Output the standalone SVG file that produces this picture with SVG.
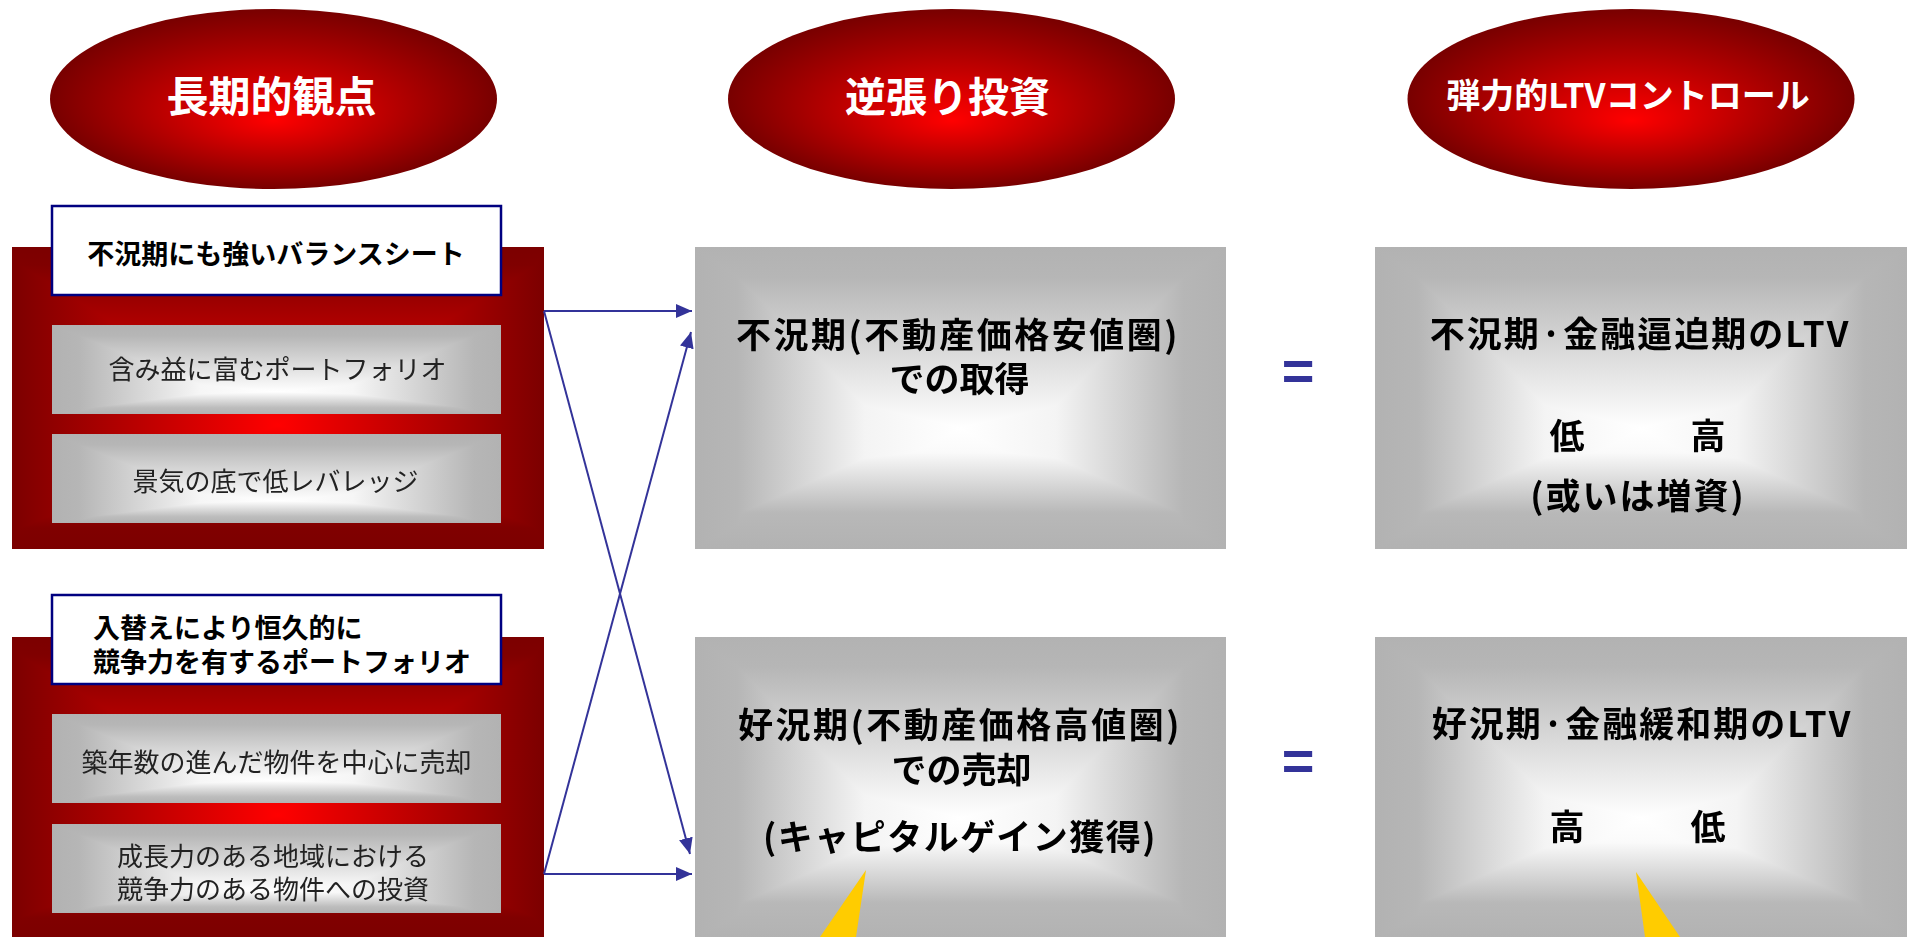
<svg xmlns="http://www.w3.org/2000/svg" width="1909" height="937" viewBox="0 0 1909 937">
<defs>
  <radialGradient id="ellG" cx="0.5" cy="0.5" r="0.5" fx="0.5" fy="0.62">
    <stop offset="0" stop-color="#FF0000"/>
    <stop offset="1" stop-color="#780000"/>
  </radialGradient>
  <linearGradient id="redH" x1="0" y1="0" x2="1" y2="0">
    <stop offset="0" stop-color="#7C0000"/>
    <stop offset="0.5" stop-color="#FF0000"/>
    <stop offset="1" stop-color="#7C0000"/>
  </linearGradient>
  <linearGradient id="redV" x1="0" y1="0" x2="0" y2="1">
    <stop offset="0" stop-color="#7C0000"/>
    <stop offset="0.06" stop-color="#800000"/>
    <stop offset="0.59" stop-color="#FF0000"/>
    <stop offset="0.93" stop-color="#800000"/>
    <stop offset="1" stop-color="#7C0000"/>
  </linearGradient>
  <linearGradient id="barH" x1="0" y1="0" x2="1" y2="0">
    <stop offset="0" stop-color="#B2B2B2"/>
    <stop offset="0.06" stop-color="#B6B6B6"/>
    <stop offset="0.33" stop-color="#F6F6F6"/>
    <stop offset="0.5" stop-color="#FFFFFF"/>
    <stop offset="0.67" stop-color="#F6F6F6"/>
    <stop offset="0.94" stop-color="#B6B6B6"/>
    <stop offset="1" stop-color="#B2B2B2"/>
  </linearGradient>
  <linearGradient id="barV" x1="0" y1="0" x2="0" y2="1">
    <stop offset="0" stop-color="#B2B2B2"/>
    <stop offset="0.12" stop-color="#B6B6B6"/>
    <stop offset="0.75" stop-color="#FFFFFF"/>
    <stop offset="0.93" stop-color="#BCBCBC"/>
    <stop offset="1" stop-color="#B2B2B2"/>
  </linearGradient>
  <linearGradient id="boxH" x1="0" y1="0" x2="1" y2="0">
    <stop offset="0" stop-color="#B2B2B2"/>
    <stop offset="0.08" stop-color="#B6B6B6"/>
    <stop offset="0.32" stop-color="#F4F4F4"/>
    <stop offset="0.5" stop-color="#FFFFFF"/>
    <stop offset="0.68" stop-color="#F4F4F4"/>
    <stop offset="0.92" stop-color="#B6B6B6"/>
    <stop offset="1" stop-color="#B2B2B2"/>
  </linearGradient>
  <linearGradient id="boxV" x1="0" y1="0" x2="0" y2="1">
    <stop offset="0" stop-color="#B2B2B2"/>
    <stop offset="0.1" stop-color="#B6B6B6"/>
    <stop offset="0.6" stop-color="#FFFFFF"/>
    <stop offset="0.68" stop-color="#FAFAFA"/>
    <stop offset="0.88" stop-color="#B8B8B8"/>
    <stop offset="1" stop-color="#B2B2B2"/>
  </linearGradient>
  <marker id="arr" markerUnits="userSpaceOnUse" markerWidth="17" markerHeight="14" refX="16" refY="7" orient="auto">
    <path d="M0,0 L16,7 L0,14 z" fill="#333399"/>
  </marker>
</defs>
<style>
  .t{font-family:'Noto Sans CJK JP','Noto Sans CJK SC',sans-serif;dominant-baseline:central}
  .title{font-weight:700;fill:#FFFFFF}
  .hdr{font-size:27px;font-weight:700;fill:#000000}
  .bar{font-size:26px;font-weight:400;fill:#222222}
  .big{font-size:35px;font-weight:700;fill:#000000}
  .lbl{fill:#FFFFFF;stroke:#000080;stroke-width:2.5}
  .ell{fill:url(#ellG)}
  .blend{mix-blend-mode:darken}
  .iso{isolation:isolate}
  .conn{stroke:#333399;stroke-width:2;fill:none;marker-end:url(#arr)}
  .eq{font-family:'Liberation Sans',Arial,sans-serif;font-weight:700;font-size:56px;fill:#333399}
  .tail{fill:#FFCC00}
</style>

<!-- Title ellipses -->
<g id="title-long-term">
  <ellipse class="ell" cx="273.5" cy="99" rx="223.5" ry="90"/>
  <text class="t title" x="271.5" y="93.5" font-size="42" text-anchor="middle">長期的観点</text>
</g>
<g id="title-contrarian">
  <ellipse class="ell" cx="951.5" cy="99" rx="223.5" ry="90"/>
  <text class="t title" x="947.5" y="93.5" font-size="41" text-anchor="middle">逆張り投資</text>
</g>
<g id="title-ltv">
  <ellipse class="ell" cx="1631" cy="99" rx="223.5" ry="90"/>
  <text class="t title" x="1628" y="93" font-size="34" text-anchor="middle">弾力的LTVコントロール</text>
</g>

<!-- Left panel 1 -->
<g id="panel-balance-sheet">
  <g class="iso">
    <rect x="12" y="247" width="532" height="302" fill="url(#redH)"/>
    <rect class="blend" x="12" y="247" width="532" height="302" fill="url(#redV)"/>
  </g>
  <rect class="lbl" x="52" y="206" width="449" height="89"/>
  <text class="t hdr" x="276" y="252" text-anchor="middle">不況期にも強いバランスシート</text>
  <g id="bar-unrealized-gain" class="iso">
    <rect x="52" y="325" width="449" height="89" fill="url(#barH)"/>
    <rect class="blend" x="52" y="325" width="449" height="89" fill="url(#barV)"/>
    <text class="t bar" x="277.5" y="367" font-size="24" text-anchor="middle">含み益に富むポートフォリオ</text>
  </g>
  <g id="bar-low-leverage" class="iso">
    <rect x="52" y="434" width="449" height="89" fill="url(#barH)"/>
    <rect class="blend" x="52" y="434" width="449" height="89" fill="url(#barV)"/>
    <text class="t bar" x="275.5" y="479" font-size="25" text-anchor="middle">景気の底で低レバレッジ</text>
  </g>
</g>

<!-- Left panel 2 -->
<g id="panel-portfolio">
  <g class="iso">
    <rect x="12" y="637" width="532" height="302" fill="url(#redH)"/>
    <rect class="blend" x="12" y="637" width="532" height="302" fill="url(#redV)"/>
  </g>
  <rect class="lbl" x="52" y="595" width="449" height="89"/>
  <text class="t hdr" x="93" y="626">入替えにより恒久的に</text>
  <text class="t hdr" x="93" y="660">競争力を有するポートフォリオ</text>
  <g id="bar-sell-old" class="iso">
    <rect x="52" y="714" width="449" height="89" fill="url(#barH)"/>
    <rect class="blend" x="52" y="714" width="449" height="89" fill="url(#barV)"/>
    <text class="t bar" x="276.5" y="760" text-anchor="middle">築年数の進んだ物件を中心に売却</text>
  </g>
  <g id="bar-invest-growth" class="iso">
    <rect x="52" y="824" width="449" height="89" fill="url(#barH)"/>
    <rect class="blend" x="52" y="824" width="449" height="89" fill="url(#barV)"/>
    <text class="t bar" x="117" y="854">成長力のある地域における</text>
    <text class="t bar" x="117" y="887">競争力のある物件への投資</text>
  </g>
</g>

<!-- Middle boxes -->
<g id="box-acquire" class="iso">
  <rect x="695" y="247" width="531" height="302" fill="url(#boxH)"/>
  <rect class="blend" x="695" y="247" width="531" height="302" fill="url(#boxV)"/>
  <text class="t big" x="958" y="332" letter-spacing="2.5" text-anchor="middle">不況期(不動産価格安値圏)</text>
  <text class="t big" x="959.5" y="376" text-anchor="middle">での取得</text>
</g>
<g id="box-sell" class="iso">
  <rect x="695" y="637" width="531" height="302" fill="url(#boxH)"/>
  <rect class="blend" x="695" y="637" width="531" height="302" fill="url(#boxV)"/>
  <text class="t big" x="960" y="722" letter-spacing="2.5" text-anchor="middle">好況期(不動産価格高値圏)</text>
  <text class="t big" x="961.5" y="767" text-anchor="middle">での売却</text>
  <text class="t big" x="960" y="834" font-size="28" letter-spacing="1.5" text-anchor="middle">(キャピタルゲイン獲得)</text>
</g>

<!-- Right boxes -->
<g id="box-ltv-recession" class="iso">
  <rect x="1375" y="247" width="532" height="302" fill="url(#boxH)"/>
  <rect class="blend" x="1375" y="247" width="532" height="302" fill="url(#boxV)"/>
  <text class="t big" x="1640" y="331" letter-spacing="2" text-anchor="middle">不況期·金融逼迫期のLTV</text>
  <text class="t big" y="433" font-size="40" text-anchor="middle"><tspan x="1567">低</tspan><tspan x="1708">高</tspan></text>
  <text class="t big" x="1638" y="493" letter-spacing="2" text-anchor="middle">(或いは増資)</text>
</g>
<g id="box-ltv-boom" class="iso">
  <rect x="1375" y="637" width="532" height="302" fill="url(#boxH)"/>
  <rect class="blend" x="1375" y="637" width="532" height="302" fill="url(#boxV)"/>
  <text class="t big" x="1642" y="721" letter-spacing="2" text-anchor="middle">好況期·金融緩和期のLTV</text>
  <text class="t big" y="824" font-size="40" text-anchor="middle"><tspan x="1567">高</tspan><tspan x="1708">低</tspan></text>
</g>

<!-- Equals signs -->
<g id="eq-top"><text class="eq" x="1298" y="390" text-anchor="middle">=</text></g>
<g id="eq-bottom"><text class="eq" x="1298" y="780" text-anchor="middle">=</text></g>

<!-- Yellow callout tails -->
<polygon class="tail" points="866,870 856,937 820,937"/>
<polygon class="tail" points="1636,872 1680,937 1645,937"/>

<!-- Connectors -->
<g id="connectors">
  <path class="conn" d="M544,311 L692,311"/>
  <path class="conn" d="M544,311 L690,854"/>
  <path class="conn" d="M544,874 L692,874"/>
  <path class="conn" d="M544,874 L691,332"/>
</g>
</svg>
